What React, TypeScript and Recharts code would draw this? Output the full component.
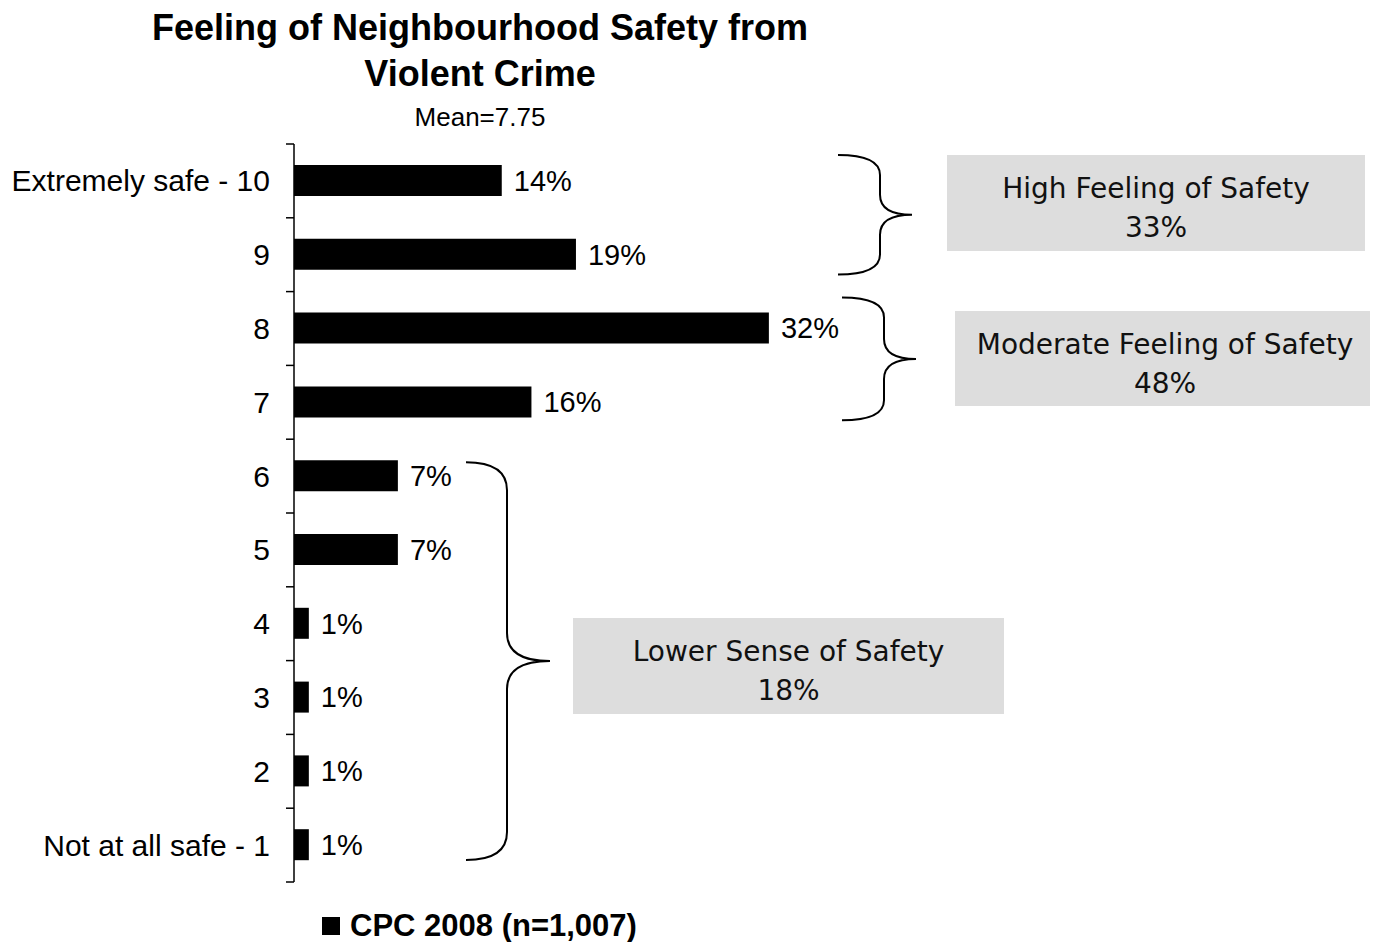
import React from "react";
import { Bar, BarChart, Customized, LabelList, Legend, XAxis, YAxis } from "recharts";

const categories = [
  "Extremely safe - 10",
  "9",
  "8",
  "7",
  "6",
  "5",
  "4",
  "3",
  "2",
  "Not at all safe - 1"
];
const values = [14, 19, 32, 16, 7, 7, 1, 1, 1, 1];

const groupLabels = ["High Feeling of Safety", "Moderate Feeling of Safety", "Lower Sense of Safety"];
const groupValues = [33, 48, 18];
const groupFirst = [0, 2, 4];
const groupLast = [1, 3, 9];

const seriesName = "CPC 2008 (n=1,007)";

const data = categories.map((c, i) => ({ name: c, value: values[i] }));

const W = 1362;
const H = 934;
const TOP = 136;
const BOTTOM = 60;
const AXIS_X = 286;
const BAND = (H - TOP - BOTTOM) / categories.length;
const FONT = "'Liberation Sans', Arial, sans-serif";
const BOX_FONT = "'DejaVu Sans', Verdana, sans-serif";

// layout of the brace + grey box annotations
const braceStyle = [
  { x0: 830, xv: 872, xt: 904, r: 20, insetTop: 11, insetBottom: 17, box: [939, 147, 418, 96] },
  { x0: 834, xv: 876, xt: 908, r: 20, insetTop: 6, insetBottom: 19, box: [947, 303, 420, 95] },
  { x0: 458, xv: 499, xt: 542, r: 28, insetTop: 23, insetBottom: 22, box: [565, 610, 431, 96] }
];

const CategoryTick = (props: any) => {
  const { x, y, payload, index } = props;
  const top = y - BAND / 2;
  return (
    <g>
      <text x={x} y={y} textAnchor="end" dominantBaseline="central" fontFamily={FONT} fontSize={30} fill="#000">
        {payload.value}
      </text>
      <line x1={AXIS_X - 8} x2={AXIS_X} y1={top} y2={top} stroke="#000" strokeWidth={1.5} />
      {index === categories.length - 1 && (
        <line x1={AXIS_X - 8} x2={AXIS_X} y1={y + BAND / 2} y2={y + BAND / 2} stroke="#000" strokeWidth={1.5} />
      )}
    </g>
  );
};

const bracePath = (x0: number, xv: number, xt: number, y0: number, y1: number, r: number) => {
  const ym = (y0 + y1) / 2;
  return [
    `M ${x0} ${y0}`,
    `Q ${xv} ${y0} ${xv} ${y0 + r}`,
    `L ${xv} ${ym - r}`,
    `Q ${xv} ${ym} ${xt} ${ym}`,
    `Q ${xv} ${ym} ${xv} ${ym + r}`,
    `L ${xv} ${y1 - r}`,
    `Q ${xv} ${y1} ${x0} ${y1}`
  ].join(" ");
};

const Overlay = () => (
  <g>
    <text x={472} y={19} textAnchor="middle" dominantBaseline="central" fontFamily={FONT} fontWeight="bold" fontSize={36}>
      Feeling of Neighbourhood Safety from
    </text>
    <text x={472} y={65} textAnchor="middle" dominantBaseline="central" fontFamily={FONT} fontWeight="bold" fontSize={36}>
      Violent Crime
    </text>
    <text x={472} y={109} textAnchor="middle" dominantBaseline="central" fontFamily={FONT} fontSize={26}>
      Mean=7.75
    </text>
    {groupLabels.map((label, i) => {
      const s = braceStyle[i];
      const y0 = TOP + groupFirst[i] * BAND + s.insetTop;
      const y1 = TOP + (groupLast[i] + 1) * BAND - s.insetBottom;
      const [bx, by, bw, bh] = s.box;
      return (
        <g key={label}>
          <path d={bracePath(s.x0, s.xv, s.xt, y0, y1, s.r)} fill="none" stroke="#000" strokeWidth={2} />
          <rect x={bx} y={by} width={bw} height={bh} fill="#DDDDDD" />
          <text x={bx + bw / 2} y={by + bh * 0.35} textAnchor="middle" dominantBaseline="central" fontFamily={BOX_FONT} fontSize={28} fill="#111">
            {label}
          </text>
          <text x={bx + bw / 2} y={by + bh * 0.76} textAnchor="middle" dominantBaseline="central" fontFamily={BOX_FONT} fontSize={28} fill="#111">
            {`${groupValues[i]}%`}
          </text>
        </g>
      );
    })}
  </g>
);

const LegendContent = () => (
  <div style={{ display: "flex", alignItems: "center", fontFamily: FONT, fontWeight: "bold", fontSize: 31, whiteSpace: "nowrap" }}>
    <span style={{ width: 18, height: 18, background: "#000", display: "inline-block", marginRight: 10 }} />
    <span>{seriesName}</span>
  </div>
);

const App = () => {
  return (
    <BarChart
      width={W}
      height={H}
      data={data}
      layout="vertical"
      margin={{ top: TOP, right: W - AXIS_X - 742, bottom: BOTTOM, left: 0 }}
      barSize={31}
    >
      <XAxis type="number" domain={[0, 50]} hide />
      <YAxis
        type="category"
        dataKey="name"
        width={AXIS_X}
        interval={0}
        tickLine={false}
        tickSize={8}
        tickMargin={16}
        axisLine={{ stroke: "#000", strokeWidth: 1.5 }}
        tick={<CategoryTick />}
      />
      <Bar dataKey="value" name={seriesName} fill="#000" isAnimationActive={false}>
        <LabelList
          dataKey="value"
          position="right"
          offset={12}
          formatter={(v: any) => `${v}%`}
          style={{ fontFamily: FONT, fontSize: 29, fill: "#000" }}
        />
      </Bar>
      <Legend
        layout="vertical"
        align="center"
        verticalAlign="middle"
        content={<LegendContent />}
        wrapperStyle={{ left: 314, top: 900, width: 400 }}
      />
      <Customized component={<Overlay />} />
    </BarChart>
  );
};

export default App;
